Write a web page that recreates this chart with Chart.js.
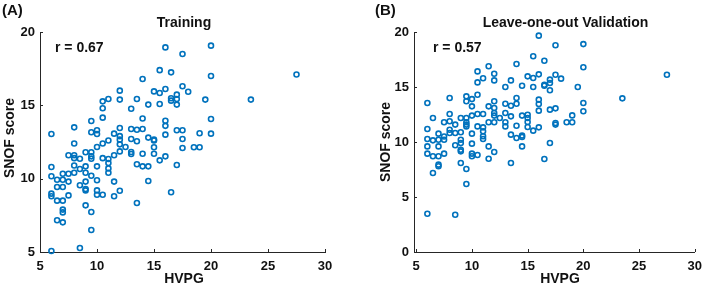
<!DOCTYPE html>
<html><head><meta charset="utf-8">
<script src="https://cdn.jsdelivr.net/npm/chart.js@4/dist/chart.umd.min.js"></script>
<style>
html,body{margin:0;padding:0;background:#fff;}
#wrap{position:relative;width:709px;height:288px;overflow:hidden;background:#fff;}
canvas{position:absolute;top:0;}
#A{left:0;}
#B{left:355px;}
</style></head><body>
<div id="wrap"><canvas id="A" width="355" height="288"></canvas><canvas id="B" width="354" height="288"></canvas></div>
<script>
// ---- Data ----
const trainHVPG = [6,6,6,6,6,6, 6.5,6.5,6.5,6.5, 7,7,7,7,7,7,7, 7.5,7.5,7.5,7.5, 8,8,8,8,8,8, 8.5,8.5,8.5,8.5,
  9,9,9,9,9,9,9, 9.5,9.5,9.5,9.5,9.5,9.5,9.5,9.5, 10,10,10,10,10,10,10, 10.5,10.5,10.5,10.5,10.5,10.5,
  11,11,11,11,11,11, 11.5,11.5,11.5,11.5, 12,12,12,12,12,12,12,12, 12.5, 13,13,13,13,13, 13.5,13.5,13.5,13.5,13.5,
  14,14,14,14,14, 14.5,14.5,14.5,14.5, 15,15,15,15,15, 15.5,15.5,15.5,15.5, 16,16,16,16,16,16, 16.5,16.5,16.5,16.5,
  17,17,17,17,17, 17.5,17.5,17.5,17.5,17.5, 18, 18.5, 19,19, 19.5, 20,20,20,20, 23.5, 27.5];
const trainSNOF = [13.05,10.8,10.16,8.98,8.8,5.07, 9.93,9.43,8.5,7.16, 10.34,9.93,9.43,8.5,7.89,7.7,7.02, 11.6,10.34,9.8,8.86,
  13.5,12.4,11.6,11.4,10.9,10.4, 11.36,10.66,9.55,5.27, 11.8,10.84,10.4,9.8,9.3,9.2,8.18,
  13.93,13.16,11.8,11.52,11.36,10.2,7.73,6.5, 13.3,13.05,12.16,10.84,9.89,9.2,8.9, 15.27,14.8,14.16,12.4,11.4,8.9,
  15.43,12.6,11.34,11.07,10.7,10.4, 13.07,11.6,9.8,8.8, 16.0,15.39,13.45,12.9,12.66,12.34,11.86,9.18, 12.16,
  14.77,13.39,12.7,11.82,11.68, 15.43,13.34,12.55,10.98,8.34, 16.8,14.1,13.39,11.7,10.84, 15.05,12.8,10.84,9.84,
  15.95,12.66,12.6,12.14,11.7, 17.4,15.84,15.09,11.25, 18.95,16.11,13.95,13.6,13.0,11.52, 17.25,15.48,15.32,9.07,
  15.73,15.43,15.05,13.3,10.93, 18.5,16.3,13.3,12.7,12.09, 15.93, 12.14, 13.1,12.14, 15.39, 19.07,17.0,14.07,13.07, 15.39, 17.1];

const looHVPG = [6,6,6,6,6,6, 6.5,6.5,6.5,6.5, 7,7,7,7,7,7, 7.5,7.5,7.5,7.5, 8,8,8,8,8, 8.5,8.5,8.5,8.5,
  9,9,9,9,9,9,9, 9.5,9.5,9.5,9.5,9.5,9.5,9.5,9.5, 10,10,10,10,10,10,10, 10.5,10.5,10.5,10.5,10.5,10.5,
  11,11,11,11,11,11, 11.5,11.5,11.5,11.5,11.5, 12,12,12,12,12,12,12,12, 12.5, 13,13,13,13,13, 13.5,13.5,13.5,13.5,13.5,
  14,14,14,14,14, 14.5,14.5,14.5,14.5,14.5, 15,15,15,15,15, 15.5,15.5,15.5,15.5, 16,16,16,16,16,16, 16.5,16.5,16.5,16.5,
  17,17,17,17,17, 17.5,17.5,17.5,17.5,17.5, 18, 18.5, 19,19, 19.5, 20,20,20,20, 23.5, 27.5];
const looSNOF = [13.55,11.18,10.27,9.6,8.94,3.48, 12.18,10.15,8.7,7.18, 10.76,10.2,9.6,8.7,7.94,7.79, 11.8,10.5,10.2,8.94,
  14.0,12.55,11.88,11.12,10.82, 11.58,10.82,9.7,3.39, 12.18,10.88,10.2,9.9,9.3,9.15,8.09,
  14.15,13.7,12.18,11.8,11.58,11.42,7.55,6.18, 13.9,13.24,12.4,10.76,9.85,8.94,8.7, 16.42,15.42,14.3,12.55,11.42,8.82,
  15.79,12.55,11.33,10.97,10.52,10.27, 16.88,13.24,11.8,9.6,8.48, 16.21,15.6,13.7,13.09,12.64,12.4,11.8,9.09, 12.18,
  15.0,13.48,12.64,11.8,11.42, 15.6,13.3,12.33,10.67,8.09, 17.09,14.0,13.48,11.48,10.36, 15.12,12.4,10.58,10.45,9.6,
  15.97,12.48,12.18,11.82,11.36, 17.79,15.82,15.0,11.03, 19.67,16.15,13.85,13.45,12.85,11.33, 17.39,15.21,15.12,8.45,
  15.67,15.36,14.7,12.94,9.91, 18.79,16.12,13.06,11.73,11.58, 15.76, 11.8, 12.42,11.8, 15.0, 18.9,16.79,13.55,12.79, 13.97, 16.12];

const xTickValues = [5, 10, 15, 20, 25, 30];
const yTickValuesA = [5, 10, 15, 20];
const yTickValuesB = [0, 5, 10, 15, 20];

// ---- Styles ----
const FONT = "'Liberation Sans', Arial, sans-serif";
const AXIS = '#262626';
const TEXT = '#111111';
const BLUE = '#0072BD';

const inwardTicks = {
  id: 'inwardTicks',
  afterDraw(chart) {
    const {ctx, chartArea: a, scales: {x, y}} = chart;
    ctx.save();
    ctx.strokeStyle = AXIS; ctx.lineWidth = 1;
    x.ticks.forEach(t => {
      const px = Math.round(x.getPixelForValue(t.value)) + 0.5;
      ctx.beginPath(); ctx.moveTo(px, a.bottom); ctx.lineTo(px, a.bottom - 3); ctx.stroke();
    });
    y.ticks.forEach(t => {
      const py = Math.round(y.getPixelForValue(t.value)) + 0.5;
      ctx.beginPath(); ctx.moveTo(a.left, py); ctx.lineTo(a.left + 3, py); ctx.stroke();
    });
    ctx.restore();
  }
};

const texts = {
  id: 'texts',
  afterDraw(chart, args, o) {
    const ctx = chart.ctx;
    ctx.save();
    ctx.fillStyle = TEXT;
    ctx.textBaseline = 'middle';
    ctx.font = 'bold 15px ' + FONT; ctx.textAlign = 'left';
    ctx.fillText(o.panel, o.panelX, 11);
    ctx.font = 'bold 14px ' + FONT; ctx.textAlign = 'center';
    ctx.fillText(o.title, o.titleX, 23);
    ctx.textAlign = 'left';
    ctx.fillText(o.r, o.rX, 48);
    ctx.textAlign = 'center';
    ctx.fillText('HVPG', o.xtX, 279);
    ctx.translate(o.ytX, o.ytY); ctx.rotate(-Math.PI / 2);
    ctx.fillText('SNOF score', 0, 0);
    ctx.restore();
  }
};

function makePanel(id, xs, ys, xmin, ymin, ymax, yTicks, padRight, yWidth, t) {
  const pts = xs.map((v, i) => ({x: v, y: ys[i]}));
  return new Chart(document.getElementById(id), {
    type: 'scatter',
    data: {datasets: [{data: pts, pointStyle: 'circle', pointRadius: 2.5, pointBorderWidth: 1.6,
      borderColor: BLUE, backgroundColor: 'rgba(0,0,0,0)', pointBackgroundColor: 'rgba(0,0,0,0)', clip: false}]},
    options: {
      responsive: false, animation: false, devicePixelRatio: 1,
      layout: {padding: {left: 0, right: padRight, top: 32, bottom: 0}},
      plugins: {legend: {display: false}, tooltip: {enabled: false}, title: {display: false}, texts: t},
      scales: {
        x: {type: 'linear', min: xmin, max: 30,
          afterBuildTicks: s => { s.ticks = xTickValues.map(v => ({value: v})); },
          afterFit: s => { s.height = 36; },
          grid: {display: false, drawTicks: false},
          border: {display: true, color: AXIS, width: 1},
          ticks: {padding: 7, color: TEXT, font: {family: FONT, size: 13, weight: 'bold'}, maxRotation: 0, autoSkip: false}},
        y: {type: 'linear', min: ymin, max: ymax,
          afterBuildTicks: s => { s.ticks = yTicks.map(v => ({value: v})); },
          afterFit: s => { s.width = yWidth; },
          grid: {display: false, drawTicks: false},
          border: {display: true, color: AXIS, width: 1},
          ticks: {padding: 5, color: TEXT, font: {family: FONT, size: 13, weight: 'bold'}, autoSkip: false}}
      }
    },
    plugins: [inwardTicks, texts]
  });
}

makePanel('A', trainHVPG, trainSNOF, 5, 5, 20, yTickValuesA, 30, 40,
  {panel: '(A)', panelX: 2, title: 'Training', titleX: 184, r: 'r = 0.67', rX: 55, xtX: 184, ytX: 10, ytY: 138});
makePanel('B', looHVPG, looSNOF, 4.8, 0, 20, yTickValuesB, 9, 59,
  {panel: '(B)', panelX: 20, title: 'Leave-one-out Validation', titleX: 210.5, r: 'r = 0.57', rX: 78, xtX: 205, ytX: 31, ytY: 142});
</script>
</body></html>
